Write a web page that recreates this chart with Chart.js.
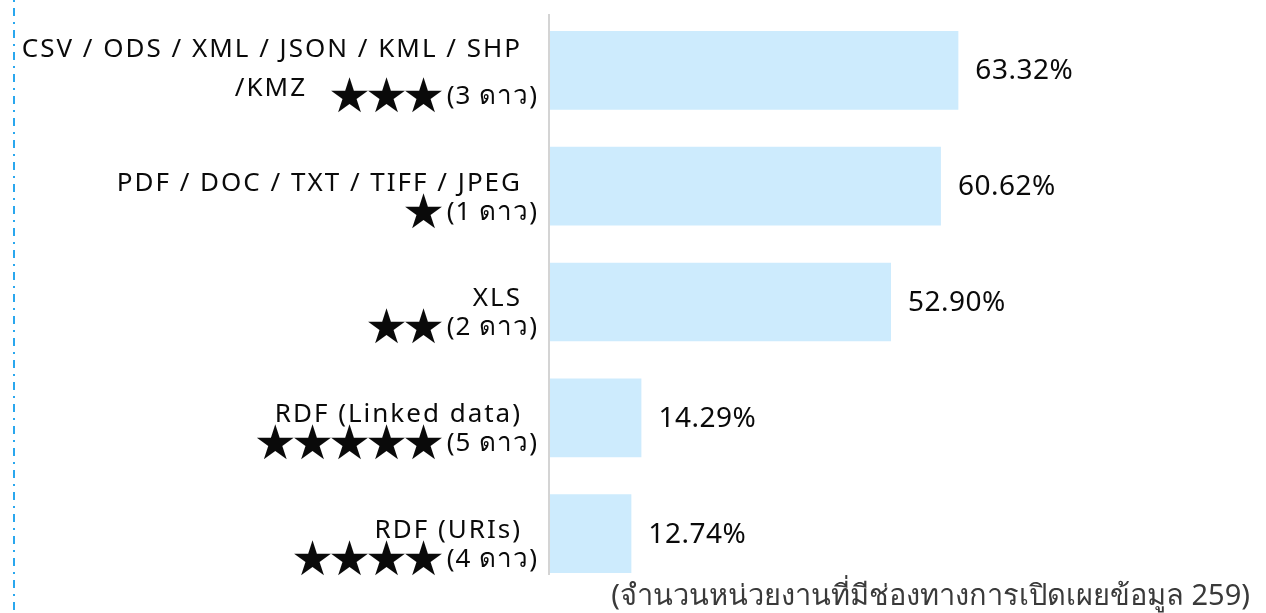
<!DOCTYPE html>
<html>
<head>
<meta charset="utf-8">
<script src="https://cdn.jsdelivr.net/npm/chart.js@4"></script>
<style>
    html, body { margin: 0; padding: 0; background: #ffffff; }
    #wrap { position: relative; width: 1266px; height: 613px; }
</style>
</head>
<body>
<div id="wrap"><canvas id="formatChart" width="1266" height="613"></canvas></div>
<script>
// dati
const formatNames = ["CSV / ODS / XML / JSON / KML / SHP", "PDF / DOC / TXT / TIFF / JPEG", "XLS", "RDF (Linked data)", "RDF (URIs)"];
const formatExtra = ["/KMZ", "", "", "", ""];
const starCounts = [3, 1, 2, 5, 4];
const shareValues = [63.32, 60.62, 52.90, 14.29, 12.74];
const footNote = "(จำนวนหน่วยงานที่มีช่องทางการเปิดเผยข้อมูล 259)";

const FONT = "'Noto Sans', 'DejaVu Sans', sans-serif";

// etichette a sinistra, stelle, valori e nota
const decorPlugin = {
    id: "decor",
    afterDatasetsDraw(chart) {
        const ctx = chart.ctx;
        const yScale = chart.scales.y;
        const xScale = chart.scales.x;
        ctx.save();

        // linea tratteggiata a sinistra
        ctx.strokeStyle = "#2aa7ee";
        ctx.lineWidth = 2;
        ctx.setLineDash([2, 6, 8, 6]);
        ctx.beginPath();
        ctx.moveTo(14, 0);
        ctx.lineTo(14, chart.height);
        ctx.stroke();
        ctx.setLineDash([]);

        // asse verticale
        const x0 = xScale.getPixelForValue(0);
        ctx.strokeStyle = "#d4d4d4";
        ctx.lineWidth = 2;
        ctx.beginPath();
        ctx.moveTo(x0, 14);
        ctx.lineTo(x0, 575);
        ctx.stroke();

        ctx.fillStyle = "#0a0a0a";
        ctx.textBaseline = "middle";
        formatNames.forEach((name, i) => {
            const yc = yScale.getPixelForValue(i);
            const topOff = formatExtra[i] ? -21 : -3;
            ctx.font = "26px " + FONT;
            ctx.letterSpacing = "2px";
            ctx.textAlign = "right";
            ctx.fillText(name, 522, yc + topOff);
            ctx.letterSpacing = "1px";
            ctx.fillText("(" + starCounts[i] + " ดาว)", 538, yc + 26);
            if (formatExtra[i]) {
                ctx.letterSpacing = "2px";
                ctx.fillText(formatExtra[i], 307, yc + 18);
            }
            ctx.letterSpacing = "-6px";
            ctx.font = "48px 'DejaVu Sans', sans-serif";
            ctx.fillText("★".repeat(starCounts[i]), 439, yc + 29);
        });

        // valori percentuali
        const meta = chart.getDatasetMeta(0);
        ctx.font = "28px " + FONT;
        ctx.letterSpacing = "0.5px";
        ctx.textAlign = "left";
        meta.data.forEach((bar, i) => {
            ctx.fillText(shareValues[i].toFixed(2) + "%", bar.x + 17, bar.y + 1);
        });

        // nota in basso
        ctx.fillStyle = "#3a3a3a";
        ctx.font = "29px " + FONT;
        ctx.letterSpacing = "0px";
        ctx.textAlign = "right";
        ctx.fillText(footNote, 1250, 597);

        ctx.restore();
    }
};

const ctx = document.getElementById("formatChart").getContext("2d");

new Chart(ctx, {
    type: "bar",
    data: {
        labels: formatNames,
        datasets: [{
            data: shareValues,
            backgroundColor: "#cdebfd",
            borderWidth: 0,
            barPercentage: 0.68,
            categoryPercentage: 1.0
        }]
    },
    options: {
        indexAxis: "y",
        responsive: false,
        animation: false,
        layout: {
            padding: { left: 549, right: 70.5, top: 12.5, bottom: 21.5 }
        },
        plugins: {
            legend: { display: false },
            tooltip: { enabled: false }
        },
        scales: {
            x: { display: false, min: 0, max: 100 },
            y: { display: false }
        }
    },
    plugins: [decorPlugin]
});
</script>
</body>
</html>
